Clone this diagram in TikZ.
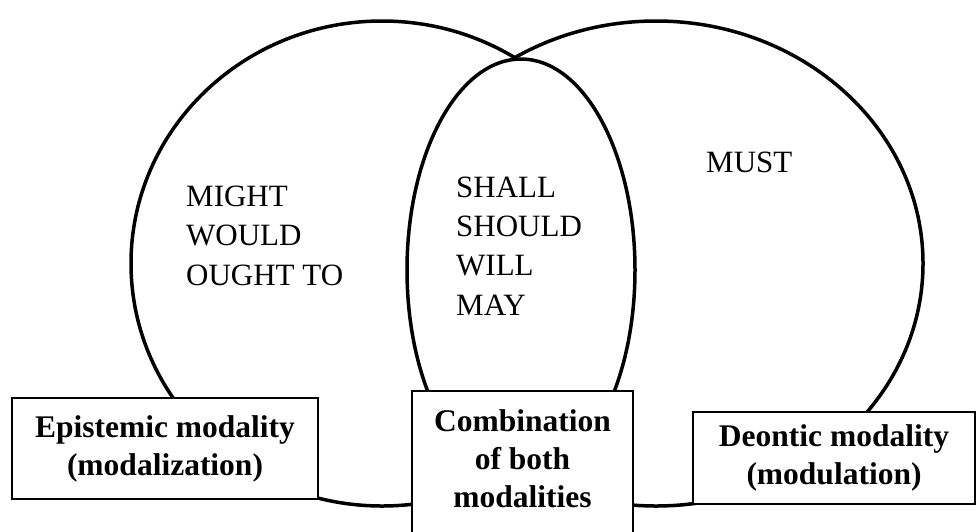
\documentclass[tikz,border=0pt]{standalone}
\usepackage{fontspec}
\setmainfont{Liberation Serif}
\tikzset{
	venn/.style={line width=3.5pt, fill=white},
	modword/.style={anchor=base west, inner sep=0pt, align=left, font=\fontsize{31}{39.3}\selectfont},
	modbox/.style={draw, line width=2pt, fill=white, inner sep=0pt, align=center, font=\fontsize{31.5}{38}\selectfont\bfseries}
}

\begin{document}
\begin{tikzpicture}[x=1pt, y=-1pt]
	\useasboundingbox (0,0) rectangle (976,531);

	% The two big circles, the left one over the right one
	\draw[venn] (656, 263.5) ellipse [x radius=267pt, y radius=242.5pt];
	\draw[venn] (382, 263.5) ellipse [x radius=251pt, y radius=242.5pt];

	% The overlap in the middle
	\draw[venn] (521, 270) ellipse [x radius=114pt, y radius=211pt];

	% Modal verbs (base is the last line)
	\node (might) at (186, 285) [modword] {MIGHT\\WOULD\\OUGHT TO};
	\node (shall) at (456, 315) [modword] {SHALL\\SHOULD\\WILL\\MAY};
	\node (must) at (706, 172) [modword] {MUST};

	% Labels of the modalities
	\node (epistemic) at (165, 448.5) [modbox, minimum width=306pt, minimum height=101pt] {Epistemic modality\\(modalization)};
	\node (combined) at (522.5, 390) [modbox, anchor=north, minimum width=221pt, inner ysep=18.5pt, text depth=150pt] {Combination\\of both\\modalities};
	\node (deontic) at (834, 458) [modbox, minimum width=282pt, minimum height=92pt] {Deontic modality\\(modulation)};
\end{tikzpicture}
\end{document}
